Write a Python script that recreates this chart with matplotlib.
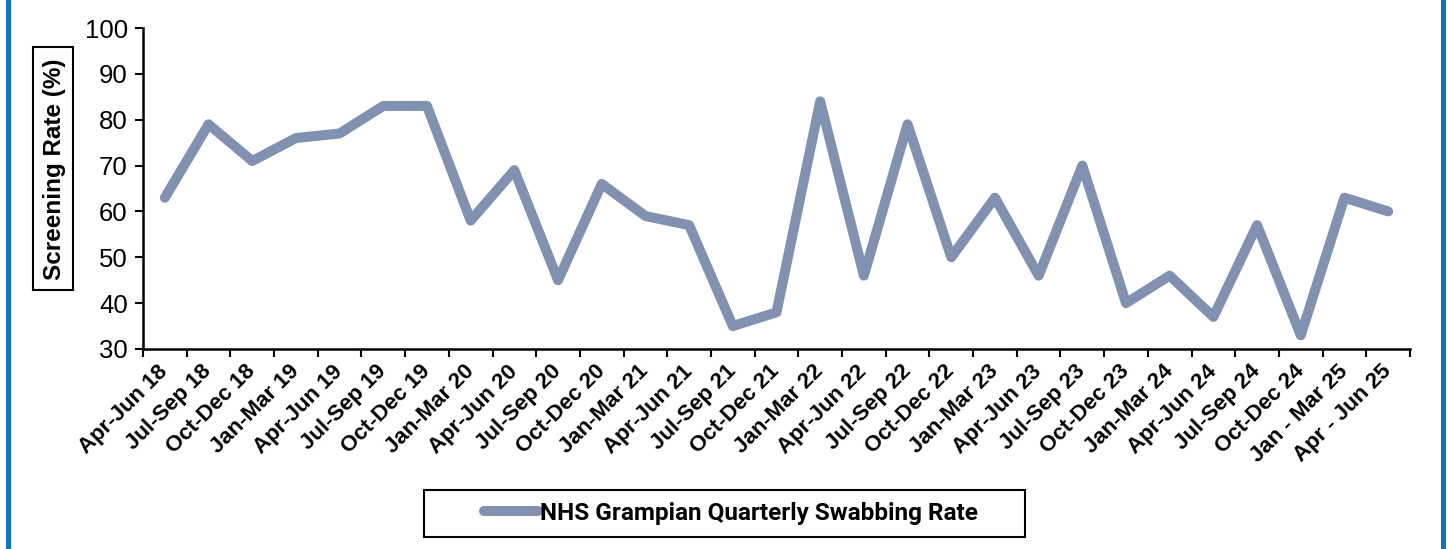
import matplotlib
matplotlib.use("Agg")
import matplotlib.pyplot as plt
from matplotlib.lines import Line2D
from matplotlib.patches import Rectangle
from matplotlib import font_manager

categories = ["Apr-Jun 18", "Jul-Sep 18", "Oct-Dec 18", "Jan-Mar 19", "Apr-Jun 19",
              "Jul-Sep 19", "Oct-Dec 19", "Jan-Mar 20", "Apr-Jun 20", "Jul-Sep 20",
              "Oct-Dec 20", "Jan-Mar 21", "Apr-Jun 21", "Jul-Sep 21", "Oct-Dec 21",
              "Jan-Mar 22", "Apr-Jun 22", "Jul-Sep 22", "Oct-Dec 22", "Jan-Mar 23",
              "Apr-Jun 23", "Jul-Sep 23", "Oct-Dec 23", "Jan-Mar 24", "Apr-Jun 24",
              "Jul-Sep 24", "Oct-Dec 24", "Jan - Mar 25", "Apr - Jun 25"]
rates = [63, 79, 71, 76, 77, 83, 83, 58, 69, 45, 66, 59, 57, 35, 38, 84, 46, 79,
         50, 63, 46, 70, 40, 46, 37, 57, 33, 63, 60]
series_name = "NHS Grampian Quarterly Swabbing Rate"
yticks = [30, 40, 50, 60, 70, 80, 90, 100]

names = {f.name for f in font_manager.fontManager.ttflist}
narrow = "Liberation Sans Narrow" if "Liberation Sans Narrow" in names else "Roboto"
plt.rcParams['font.family'] = ['Liberation Sans', 'DejaVu Sans']

W, H = 1448, 549
fig = plt.figure(figsize=(W / 100, H / 100), dpi=100)
ax = fig.add_axes([143 / W, 1 - 349 / H, (1410 - 143) / W, (349 - 28) / H])

x = list(range(len(categories)))
color = "#8091B1"
ax.plot(x, rates, color=color, lw=7.2, solid_joinstyle="round",
        solid_capstyle="round", label=series_name)

ax.set_xlim(-0.5, len(categories) - 0.5)
ax.set_ylim(30, 100)
ax.set_yticks(yticks)
ax.set_yticklabels([str(v) for v in yticks], fontsize=18.5)
ax.set_xticks([i - 0.5 for i in range(len(categories) + 1)], minor=False)
ax.set_xticklabels([])
ax.set_xticks(x, minor=True)
ax.set_xticklabels(categories, minor=True, rotation=45, ha="right",
                   va="center", rotation_mode="anchor", fontsize=16,
                   fontweight="bold")
ax.tick_params(axis="x", which="minor", length=0, pad=14)
ax.tick_params(axis="x", which="major", length=6, width=1.5, direction="out")
ax.tick_params(axis="y", length=6, width=1.5, direction="out", pad=5)
for s in ["top", "right"]:
    ax.spines[s].set_visible(False)
for s in ["left", "bottom"]:
    ax.spines[s].set_linewidth(1.8)

# y-axis title in a box
fig.add_artist(Rectangle((33 / W, 1 - 290 / H), 40 / W, 243 / H,
                         transform=fig.transFigure, fc="white", ec="black", lw=1.5))
fig.text(54 / W, 1 - 169 / H, "Screening Rate (%)", rotation=90, ha="center",
         va="center", fontsize=17.5, fontweight="bold")

# legend with a manually sized frame
fig.add_artist(Rectangle((424 / W, 1 - 537 / H), 601 / W, 47 / H,
                         transform=fig.transFigure, fc="white", ec="black", lw=1.5))
handle = Line2D([], [], color=color, lw=7.2, solid_capstyle="round")
leg = fig.legend([handle], [series_name], loc="center",
                 bbox_to_anchor=(731 / W, 1 - 513.5 / H), frameon=False,
                 handlelength=2.2, handletextpad=0.1, borderpad=0.2,
                 borderaxespad=0,
                 prop=dict(family=narrow, weight="bold", size=17.5))

fig.add_artist(Line2D([7.5 / W, 7.5 / W], [0, 1], transform=fig.transFigure,
                      color="#0A74C8", lw=3.6))
fig.add_artist(Line2D([1442.5 / W, 1442.5 / W], [0, 1], transform=fig.transFigure,
                      color="#0A74C8", lw=3.6))

fig.savefig("out.png", dpi=100)
